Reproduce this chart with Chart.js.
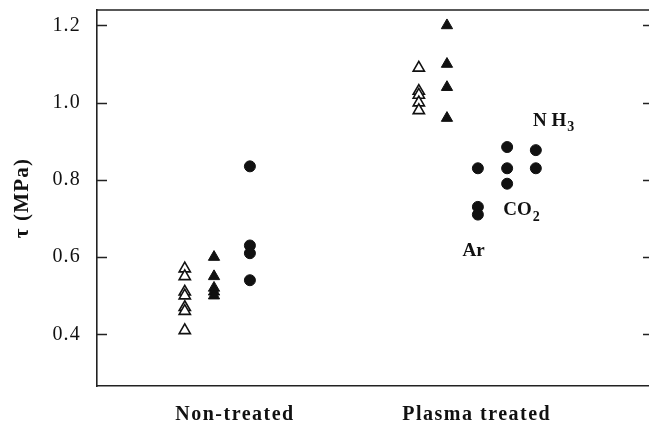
<!DOCTYPE html>
<html>
<head>
<meta charset="utf-8">
<script src="https://cdn.jsdelivr.net/npm/chart.js@4"></script>
<style>
  html, body { margin: 0; padding: 0; background: #fff; }
  #c { display: block; }
</style>
</head>
<body>
<canvas id="c" width="649" height="426"></canvas>
<script>
// group labels and their centre on the x axis
const groupLabels = ['Non-treated', 'Plasma treated'];
const groupCentres = [2.5, 6.88];

// x column of each series
const colNonOpen = 1.59;
const colNonFilled = 2.12;
const colNonCircle = 2.77;
const colPlasmaOpen = 5.83;
const colPlasmaFilled = 6.34;
const colAr = 6.90;
const colCO2 = 7.43;
const colNH3 = 7.95;

// tau (MPa) values
const nonOpenTri = [0.57, 0.55, 0.51, 0.50, 0.47, 0.46, 0.41];
const nonFilledTri = [0.60, 0.55, 0.52, 0.51, 0.50];
const nonCircle = [0.835, 0.63, 0.61, 0.54];
const plasmaOpenTri = [1.09, 1.03, 1.02, 1.00, 0.98];
const plasmaFilledTri = [1.20, 1.10, 1.04, 0.96];
const plasmaAr = [0.83, 0.73, 0.71];
const plasmaCO2 = [0.885, 0.83, 0.79];
const plasmaNH3 = [0.877, 0.83];

const yTicks = [0.4, 0.6, 0.8, 1.0, 1.2];

const ink = '#111';
const serif = '"Liberation Serif", "DejaVu Serif", serif';

const pts = (x, ys) => ys.map(y => ({ x: x, y: y }));

function openTri(x, ys) {
  return { data: pts(x, ys), pointStyle: 'triangle', pointRadius: 6.5, pointBackgroundColor: '#fff', pointBorderColor: ink, pointBorderWidth: 1.6 };
}
function filledTri(x, ys) {
  return { data: pts(x, ys), pointStyle: 'triangle', pointRadius: 6.5, pointBackgroundColor: ink, pointBorderColor: ink, pointBorderWidth: 1 };
}
function dots(x, ys) {
  return { data: pts(x, ys), pointStyle: 'circle', pointRadius: 5.5, pointBackgroundColor: ink, pointBorderColor: ink, pointBorderWidth: 1 };
}

// gas names next to the plasma circles, in data units
const gasNotes = [
  { x: 6.62, y: 0.616, main: 'Ar', sub: '' },
  { x: 7.36, y: 0.722, main: 'CO', sub: '2' },
  { x: 7.90, y: 0.953, main: 'N H', sub: '3' }
];

function noOverflow(s) {
  s.paddingTop = 0; s.paddingBottom = 0; s.paddingLeft = 0; s.paddingRight = 0;
}

const frame = {
  id: 'frame',
  beforeDraw(chart) {
    // the printed figure is set a little loose
    chart.ctx.letterSpacing = '1.2px';
  },
  afterDatasetsDraw(chart) {
    const { ctx, chartArea: a, scales: { x, y } } = chart;
    ctx.save();
    ctx.strokeStyle = '#222';
    ctx.lineWidth = 1.6;
    ctx.beginPath();
    ctx.moveTo(a.left, a.top);
    ctx.lineTo(a.right, a.top);
    yTicks.forEach(v => {
      const py = Math.round(y.getPixelForValue(v)) + 0.5;
      ctx.moveTo(a.left, py);
      ctx.lineTo(a.left + 10, py);
      ctx.moveTo(a.right - 6, py);
      ctx.lineTo(a.right, py);
    });
    ctx.stroke();

    ctx.fillStyle = ink;
    ctx.textBaseline = 'middle';
    ctx.textAlign = 'left';
    ctx.letterSpacing = '0px';
    gasNotes.forEach(n => {
      const px = x.getPixelForValue(n.x);
      const py = y.getPixelForValue(n.y);
      ctx.font = 'bold 19px ' + serif;
      ctx.fillText(n.main, px, py);
      if (n.sub) {
        const w = ctx.measureText(n.main).width;
        ctx.font = 'bold 14px ' + serif;
        ctx.fillText(n.sub, px + w + 1, py + 7);
      }
    });

    // group names under the axis, spaced out like the print
    ctx.font = 'bold 20px ' + serif;
    ctx.letterSpacing = '1.5px';
    ctx.textAlign = 'center';
    groupLabels.forEach((t, i) => {
      ctx.fillText(t, x.getPixelForValue(groupCentres[i]), a.bottom + 29);
    });
    ctx.restore();
  }
};

new Chart(document.getElementById('c'), {
  type: 'scatter',
  data: {
    datasets: [
      openTri(colNonOpen, nonOpenTri),
      filledTri(colNonFilled, nonFilledTri),
      dots(colNonCircle, nonCircle),
      openTri(colPlasmaOpen, plasmaOpenTri),
      filledTri(colPlasmaFilled, plasmaFilledTri),
      dots(colAr, plasmaAr),
      dots(colCO2, plasmaCO2),
      dots(colNH3, plasmaNH3)
    ]
  },
  options: {
    responsive: false,
    animation: false,
    layout: { autoPadding: false, padding: { top: 10, right: 0, left: 0, bottom: 0 } },
    plugins: { legend: { display: false }, tooltip: { enabled: false } },
    scales: {
      x: {
        type: 'linear',
        min: 0,
        max: 10,
        afterFit(s) { s.height = 40; noOverflow(s); },
        afterBuildTicks(s) { s.ticks = groupCentres.map(v => ({ value: v })); },
        grid: { display: false, drawTicks: false },
        border: { display: true, color: '#222', width: 1.6 },
        ticks: { display: false }
      },
      y: {
        min: 0.266,
        max: 1.24,
        afterFit(s) { s.width = 97; noOverflow(s); },
        afterBuildTicks(s) { s.ticks = yTicks.map(v => ({ value: v })); },
        grid: { display: false, drawTicks: false },
        border: { display: true, color: '#222', width: 1.6 },
        ticks: {
          color: ink,
          padding: 16,
          font: { family: serif, size: 20 },
          callback: (v) => v.toFixed(1)
        },
        title: {
          display: true,
          text: 'τ (MPa)',
          color: ink,
          padding: { top: 10, bottom: 0 },
          font: { family: serif, size: 21, weight: 'bold' }
        }
      }
    }
  },
  plugins: [frame]
});
</script>
</body>
</html>
